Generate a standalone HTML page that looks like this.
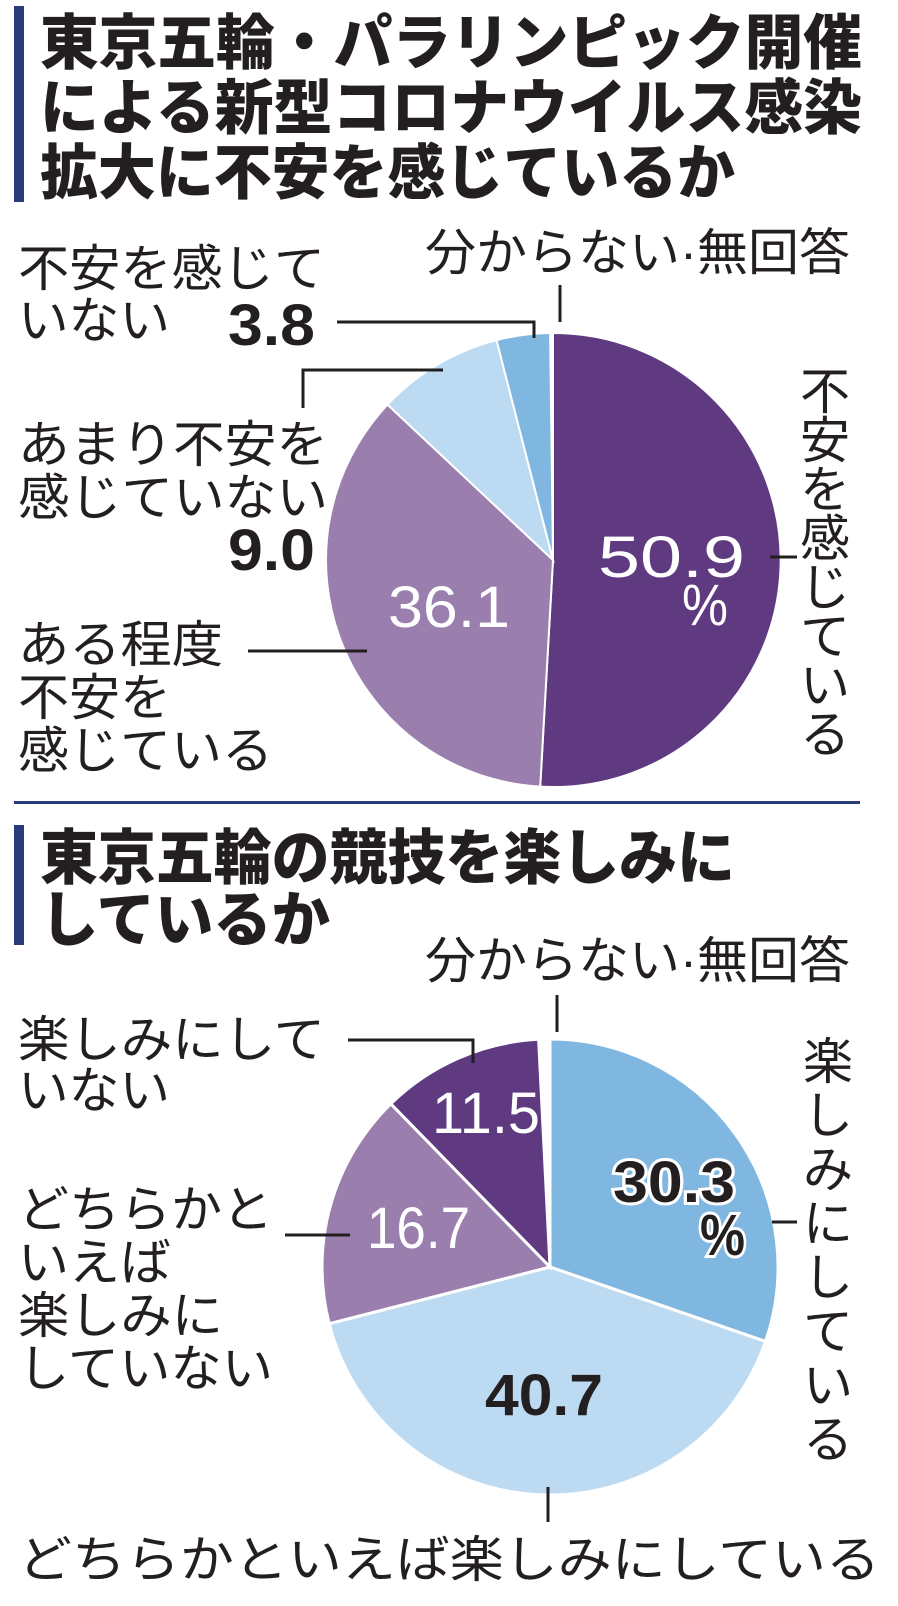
<!DOCTYPE html>
<html><head><meta charset="utf-8"><style>
html,body{margin:0;padding:0;background:#fff;}
svg{display:block;}
.t{font-family:"Liberation Sans","Noto Sans CJK JP",sans-serif;font-weight:900;font-size:60px;fill:#231f20;}
.l{font-family:"Liberation Sans","Noto Sans CJK JP",sans-serif;font-weight:400;font-size:50px;fill:#231f20;}
.v{font-family:"Noto Sans CJK JP",sans-serif;font-weight:400;font-size:50px;fill:#231f20;text-anchor:middle;}
.n{font-family:"Liberation Sans",sans-serif;font-size:58px;}
</style></head><body>
<svg width="898" height="1606" viewBox="0 0 898 1606" xmlns="http://www.w3.org/2000/svg">
<rect width="898" height="1606" fill="#fff"/>
<rect x="14" y="6" width="10" height="196" fill="#2a3b7c"/>
<text class="t" x="40" y="64" textLength="822" lengthAdjust="spacingAndGlyphs">東京五輪・パラリンピック開催</text>
<text class="t" x="40" y="129" textLength="822" lengthAdjust="spacingAndGlyphs">による新型コロナウイルス感染</text>
<text class="t" x="40" y="194" textLength="695" lengthAdjust="spacingAndGlyphs">拡大に不安を感じているか</text>

<g stroke="#fff" stroke-width="2">
<path d="M553,560 L553,333 A227,227 0 1 1 540.2,786.6 Z" fill="#5f3a80"/>
<path d="M553,560 L540.2,786.6 A227,227 0 0 1 387.5,404.6 Z" fill="#9a7eae"/>
<path d="M553,560 L387.5,404.6 A227,227 0 0 1 496.5,340.1 Z" fill="#bcdaf2"/>
<path d="M553,560 L496.5,340.1 A227,227 0 0 1 550.1,333 Z" fill="#7fb7e0"/>
</g>
<g stroke="#231f20" stroke-width="3" fill="none">
<line x1="560" y1="285" x2="560" y2="322"/>
<polyline points="337,322 534,322 534,338"/>
<polyline points="303,408 303,370 443,370"/>
<line x1="248" y1="651" x2="367" y2="651"/>
<line x1="770" y1="557" x2="797" y2="557"/>
</g>
<text class="l" x="425" y="270" textLength="425" lengthAdjust="spacingAndGlyphs">分からない·無回答</text>
<text class="l" x="18" y="286" textLength="307" lengthAdjust="spacingAndGlyphs">不安を感じて</text>
<text class="l" x="18" y="338" textLength="152" lengthAdjust="spacingAndGlyphs">いない</text>
<text class="n" x="228" y="345" font-weight="bold" fill="#231f20" textLength="87" lengthAdjust="spacingAndGlyphs">3.8</text>
<text class="l" x="18" y="462" textLength="310" lengthAdjust="spacingAndGlyphs">あまり不安を</text>
<text class="l" x="18" y="515" textLength="310" lengthAdjust="spacingAndGlyphs">感じていない</text>
<text class="n" x="228" y="570" font-weight="bold" fill="#231f20" textLength="87" lengthAdjust="spacingAndGlyphs">9.0</text>
<text class="l" x="18" y="662" textLength="205" lengthAdjust="spacingAndGlyphs">ある程度</text>
<text class="l" x="18" y="715" textLength="153" lengthAdjust="spacingAndGlyphs">不安を</text>
<text class="l" x="18" y="768" textLength="255" lengthAdjust="spacingAndGlyphs">感じている</text>
<g class="v">
<text x="825" y="409">不</text><text x="825" y="458">安</text><text x="825" y="507">を</text><text x="825" y="556">感</text>
<text x="825" y="605">じ</text><text x="825" y="654">て</text><text x="825" y="703">い</text><text x="825" y="752">る</text>
</g>
<text class="n" x="598" y="577" fill="#fff" textLength="147" lengthAdjust="spacingAndGlyphs">50.9</text>
<text class="n" x="682" y="625" fill="#fff" font-size="54" textLength="46" lengthAdjust="spacingAndGlyphs">%</text>
<text class="n" x="388" y="627" fill="#fff" textLength="122" lengthAdjust="spacingAndGlyphs">36.1</text>

<rect x="14" y="801" width="846" height="3" fill="#2a3b7c"/>

<rect x="14" y="825" width="10" height="120" fill="#2a3b7c"/>
<text class="t" x="40" y="879" textLength="695" lengthAdjust="spacingAndGlyphs">東京五輪の競技を楽しみに</text>
<text class="t" x="40" y="941" textLength="290" lengthAdjust="spacingAndGlyphs">しているか</text>

<g stroke="#fff" stroke-width="3">
<path d="M550,1267 L550,1039 A228,228 0 0 1 765.5,1341.5 Z" fill="#7fb7e0"/>
<path d="M550,1267 L765.5,1341.5 A228,228 0 0 1 329.2,1323.7 Z" fill="#bcdaf2"/>
<path d="M550,1267 L329.2,1323.7 A228,228 0 0 1 390.8,1103.8 Z" fill="#9a7eae"/>
<path d="M550,1267 L390.8,1103.8 A228,228 0 0 1 538.6,1039.3 Z" fill="#5f3a80"/>
</g>
<g stroke="#231f20" stroke-width="3" fill="none">
<line x1="557" y1="995" x2="557" y2="1032"/>
<polyline points="348,1040 473,1040 473,1063"/>
<line x1="285" y1="1235" x2="350" y2="1235"/>
<line x1="772" y1="1222" x2="797" y2="1222"/>
<line x1="548" y1="1487" x2="548" y2="1522"/>
</g>
<text class="l" x="425" y="978" textLength="425" lengthAdjust="spacingAndGlyphs">分からない·無回答</text>
<text class="l" x="18" y="1057" textLength="307" lengthAdjust="spacingAndGlyphs">楽しみにして</text>
<text class="l" x="18" y="1108" textLength="152" lengthAdjust="spacingAndGlyphs">いない</text>
<text class="l" x="18" y="1227" textLength="255" lengthAdjust="spacingAndGlyphs">どちらかと</text>
<text class="l" x="18" y="1280" textLength="153" lengthAdjust="spacingAndGlyphs">いえば</text>
<text class="l" x="18" y="1333" textLength="205" lengthAdjust="spacingAndGlyphs">楽しみに</text>
<text class="l" x="18" y="1386" textLength="255" lengthAdjust="spacingAndGlyphs">していない</text>
<text class="l" x="18" y="1577" textLength="862" lengthAdjust="spacingAndGlyphs">どちらかといえば楽しみにしている</text>
<g class="v">
<text x="828" y="1079">楽</text><text x="828" y="1133">し</text><text x="828" y="1187">み</text><text x="828" y="1241">に</text>
<text x="828" y="1295">し</text><text x="828" y="1349">て</text><text x="828" y="1403">い</text><text x="828" y="1457">る</text>
</g>
<text class="n" x="432" y="1133" fill="#fff" font-size="50" textLength="108" lengthAdjust="spacingAndGlyphs">11.5</text>
<text class="n" x="367" y="1248" fill="#fff" font-size="50" textLength="103" lengthAdjust="spacingAndGlyphs">16.7</text>
<g font-weight="bold" stroke="#fff" stroke-width="6" paint-order="stroke" fill="#231f20">
<text class="n" x="613" y="1202" font-size="52" textLength="122" lengthAdjust="spacingAndGlyphs">30.3</text>
<text class="n" x="700" y="1255" font-size="52" textLength="45" lengthAdjust="spacingAndGlyphs">%</text>
</g>
<text class="n" x="485" y="1415" font-weight="bold" fill="#231f20" font-size="55" textLength="118" lengthAdjust="spacingAndGlyphs">40.7</text>
</svg>
</body></html>
